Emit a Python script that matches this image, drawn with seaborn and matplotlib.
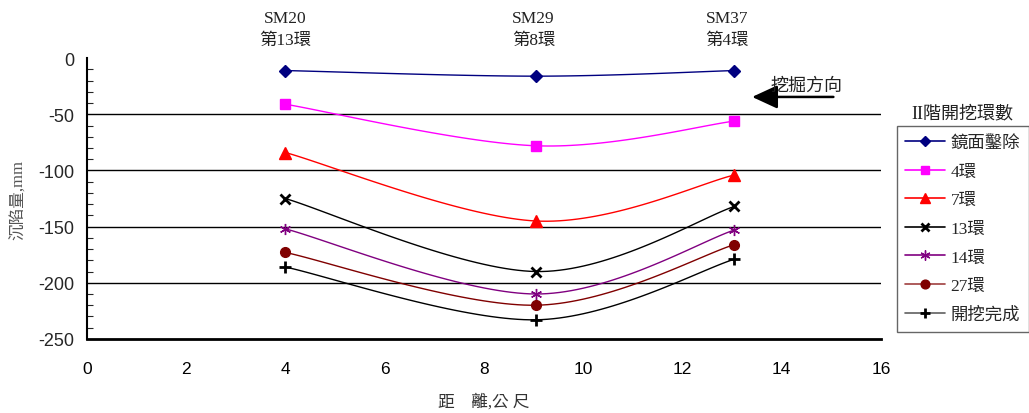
import numpy as np
import pandas as pd
import matplotlib
matplotlib.use("Agg")
import matplotlib.pyplot as plt
import seaborn as sns
from matplotlib.lines import Line2D

# ---- data ----
distance = [4.0, 9.05, 13.05]
series_names = ["鏡面鑿除", "4環", "7環", "13環", "14環", "27環", "開挖完成"]
s_mirror = [-11, -16, -11]
s_4 = [-41, -78, -56]
s_7 = [-84, -145, -104]
s_13 = [-125, -190, -132]
s_14 = [-152, -210, -153]
s_27 = [-173, -220, -166]
s_done = [-186, -233, -179]
series_values = [s_mirror, s_4, s_7, s_13, s_14, s_27, s_done]
top_labels = ["SM20\n第13環", "SM29\n第8環", "SM37\n第4環"]
top_label_x = [4.0, 9.0, 12.9]
xticks = [0, 2, 4, 6, 8, 10, 12, 14, 16]
yticks = [0, -50, -100, -150, -200, -250]

colors = ["#000080", "#FF00FF", "#FF0000", "#000000", "#800080", "#800000", "#000000"]
markers = ["D", "s", "^", "x", (6, 2, 0), "o", "+"]
msizes = [6, 7, 8, 7, 8, 7, 8]
legend_line_colors = ["#000080", "#FF00FF", "#FF0000", "#000000", "#800080", "#A04040", "#606060"]

sns.set_theme(style="white")
plt.rcParams['font.family'] = ['Liberation Sans', 'Noto Sans CJK TC']
plt.rcParams['axes.unicode_minus'] = False
serif_cjk = ['Liberation Serif', 'Noto Sans CJK TC']

fig = plt.figure(figsize=(10.29, 4.14), dpi=100)
ax = fig.add_axes([0.0845, 0.179, 0.7715, 0.678])


def smooth(xs, ys, n=40):
    P = np.column_stack([xs, ys]).astype(float)
    m = len(P)
    out = []
    for i in range(m - 1):
        p0 = P[i - 1] if i > 0 else P[i]
        p1 = P[i]
        p2 = P[i + 1]
        p3 = P[i + 2] if i + 2 < m else P[i + 1]
        c1 = p1 + (p2 - p0) / 6.0
        c2 = p2 - (p3 - p1) / 6.0
        t = np.linspace(0, 1, n)[:, None]
        seg = (1 - t) ** 3 * p1 + 3 * (1 - t) ** 2 * t * c1 + 3 * (1 - t) * t ** 2 * c2 + t ** 3 * p2
        out.append(seg if i == 0 else seg[1:])
    return np.vstack(out)


for name, vals, c, mk, ms in zip(series_names, series_values, colors, markers, msizes):
    curve = smooth(distance, vals)
    cdf = pd.DataFrame({"x": curve[:, 0], "y": curve[:, 1]})
    sns.lineplot(data=cdf, x="x", y="y", sort=False, color=c, lw=1.0, ax=ax,
                 estimator=None)
    pdf = pd.DataFrame({"x": distance, "y": vals})
    ax.plot(pdf["x"], pdf["y"], linestyle="none", marker=mk, color=c, ms=ms,
            mew=2 if mk in ("x", "+") else 1)

# grid lines
for yv in [-50, -100, -150, -200]:
    ax.axhline(yv, color="black", lw=1.0, zorder=0)

ax.set_xlim(0, 16)
ax.set_ylim(-250, 0)
ax.set_xticks(xticks)
ax.set_yticks(yticks)
ax.set_yticks(np.arange(-250, 1, 10), minor=True)
ax.tick_params(axis="x", direction="in", length=5, width=1, labelsize=12.5, pad=16, colors="black")
ax.tick_params(axis="y", which="major", direction="in", length=5, width=1, labelsize=13, pad=9)
ax.tick_params(axis="y", which="minor", direction="in", length=4, width=0.8, left=True)
for sp in ["top", "right"]:
    ax.spines[sp].set_visible(False)
ax.spines["left"].set_color("black")
ax.spines["left"].set_linewidth(1.5)
ax.spines["bottom"].set_color("black")
ax.spines["bottom"].set_linewidth(2.0)
ax.set_xlabel("距　離,公 尺", family=serif_cjk, fontsize=12, color="#333333", labelpad=12)
ax.set_ylabel("沉陷量,mm", family=serif_cjk, fontsize=12, color="#555555", labelpad=8)

# top station labels
for tx, tl in zip(top_label_x, top_labels):
    ax.text(tx, 1.035, tl, transform=ax.get_xaxis_transform(), ha="center", va="bottom",
            family=serif_cjk, fontsize=12.5, color="#222222", linespacing=1.55)

# excavation direction arrow
ax.annotate("", xy=(13.35, -34.5), xytext=(15.1, -34.5),
            arrowprops=dict(arrowstyle="-|>,head_length=1.3,head_width=0.6", color="black", lw=1.8))
ax.text(14.5, -32, "挖掘方向", ha="center", va="bottom", family=serif_cjk, fontsize=13, color="#222222")

# legend
handles = [Line2D([], [], color=lc, lw=1.2, marker=mk, ms=ms * 0.9, markerfacecolor=c, markeredgecolor=c,
                  mew=2 if mk in ("x", "+") else 1)
           for lc, c, mk, ms in zip(legend_line_colors, colors, markers, msizes)]
leg = fig.legend(handles, series_names, loc="upper left", bbox_to_anchor=(0.8715, 0.693),
                 frameon=True, fancybox=False, edgecolor="#666666", framealpha=1,
                 prop={"family": serif_cjk, "size": 12.5}, labelspacing=0.72,
                 handlelength=2.3, handletextpad=0.3, borderpad=0.5, borderaxespad=0)
leg.get_frame().set_linewidth(1.0)
fig.text(0.935, 0.705, "II階開挖環數", ha="center", va="bottom", family=serif_cjk, fontsize=13, color="#222222")

fig.savefig("out.png", dpi=100)
